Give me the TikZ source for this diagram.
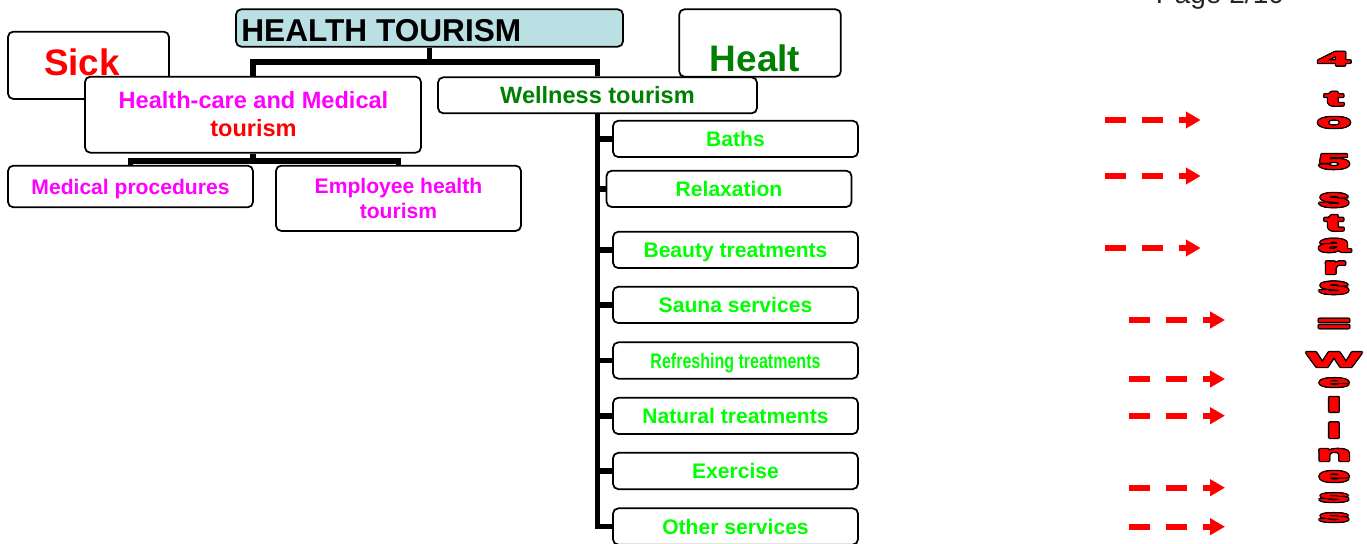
\documentclass[tikz,border=0pt]{standalone}
\usepackage{fontspec}
\setmainfont{Liberation Sans}
\newfontfamily\starfont{Liberation Sans}[UprightFont={* Bold},FakeBold=2.5]
\usepackage{graphicx}
\usetikzlibrary{arrows.meta,calc}
\pgfdeclarelayer{bg}
\pgfsetlayers{bg,main}
\definecolor{htfill}{RGB}{186,224,228}
\definecolor{darkgreen}{RGB}{0,128,0}
\definecolor{litegreen}{RGB}{0,255,0}
\definecolor{pinkish}{RGB}{255,0,255}
\newcommand\pxu{0.02cm}
\newcommand\fsz[1]{\fontsize{#1}{#1}\selectfont}
\begin{document}
\begin{tikzpicture}[x=0.02cm, y=-0.02cm,
  box/.style={draw=black, line width=1pt, rounded corners=3pt, fill=white, inner sep=0pt},
  sized/.style 2 args={minimum width=#1*\pxu, minimum height=#2*\pxu},
  conn/.style={draw=black, line width=3.4pt, line join=miter},
  txt/.style={inner sep=0pt, anchor=base},
  wbox/.style={box, sized={245}{36.3}, text=litegreen, font=\bfseries\fsz{12pt}, text height=8.6pt, text depth=0pt},
  dasharrow/.style={draw=red, line width=3.3pt, dash pattern=on 11.9pt off 9.1pt, -{Triangle[length=8.5pt,width=9.2pt]}},
  starch/.style={inner sep=0pt, anchor=base, font=\starfont\fsz{11.3pt}},
]
\useasboundingbox (0,0) rectangle (1367,544);

% page header
\node[txt, font=\fsz{16pt}, text=black!85] (page) at (1220,4) {Page 2/10};

% side boxes and title
\node[box, sized={161}{67.3}] (sick) at (88.5,65.3) {};
\node[txt, text=red, font=\bfseries\fsz{21pt}] (sicktxt) at (82,76) {Sick};
\node[box, sized={387}{37.4}, fill=htfill] (ht) at (429.5,28) {};
\node[txt, anchor=base west, font=\bfseries\fsz{18pt}] (httxt) at (241,41.7) {HEALTH TOURISM};
\node[box, sized={161.7}{67.4}] (healt) at (760,43) {};
\node[txt, text=darkgreen, font=\bfseries\fsz{21pt}] (healttxt) at (755,71.7) {Healt};

% second level
\node[box, sized={336}{76}] (hc) at (253,114.7) {};
\node[txt, text=pinkish, font=\bfseries\fsz{13.4pt}] (hc1) at (253.5,108.3) {Health-care and Medical};
\node[txt, text=red, font=\bfseries\fsz{13.4pt}] (hc2) at (253.5,136.7) {tourism};
\node[box, sized={319}{36}, text=darkgreen, font=\bfseries\fsz{13.4pt}, text height=9.6pt, text depth=0pt] (wt) at (597.5,95.3) {Wellness tourism};

% medical branch
\node[box, sized={245}{41.6}, text=pinkish, font=\bfseries\fsz{12pt}, text height=8.6pt, text depth=0pt] (mp) at (130.5,186.5) {Medical procedures};
\node[box, sized={245}{65.3}] (eh) at (398.5,198.3) {};
\node[txt, text=pinkish, font=\bfseries\fsz{12pt}] (eh1) at (398.5,193.3) {Employee health};
\node[txt, text=pinkish, font=\bfseries\fsz{12pt}] (eh2) at (398.5,218) {tourism};

% wellness branch
\node[wbox] (w1) at (735.5,138.9) {Baths};
\node[wbox] (w2) at (729,188.9) {Relaxation};
\node[wbox] (w3) at (735.5,249.9) {Beauty treatments};
\node[wbox] (w4) at (735.5,304.9) {Sauna services};
\node[wbox] (w5) at (735.5,360.5) {\scalebox{0.76}[1]{Refreshing treatments}};
\node[wbox] (w6) at (735.5,415.9) {Natural treatments};
\node[wbox] (w7) at (735.5,471) {Exercise};
\node[wbox] (w8) at (735.5,526.5) {Other services};

% tree connectors
\begin{pgfonlayer}{bg}
  \coordinate (hj) at ($(ht.south)+(0,14.3)$);
  \draw[conn] (ht.south) -- (hj);
  \draw[conn] (hc.north) |- (hj) -| (wt.north);
  \coordinate (cj) at ($(hc.south)+(0,7.3)$);
  \draw[conn] (hc.south) -- (cj);
  \draw[conn] (mp.north) |- (cj) -| (eh.north);
  \draw[conn] (wt.south) |- (w8.west);
  \foreach \k in {1,...,7} \draw[conn] (wt.south |- w\k.west) -- (w\k.west);
\end{pgfonlayer}

% dashed arrows
\foreach \i/\xs/\xe/\yy in {1/1105/1200.7/120, 2/1105/1200.7/176, 3/1105/1200.7/248,
  4/1129/1225/320, 5/1129/1225/379, 6/1129/1225/415.7, 7/1129/1225/487.7, 8/1129/1225/526.7}{
  \coordinate (as\i) at (\xs,\yy);
  \coordinate (ae\i) at (\xe,\yy);
  \draw[dasharrow] (as\i) -- (ae\i);
}

% stacked outlined letters: character / baseline / vertical scale
\foreach \ch/\yy/\ys [count=\n] in {4/65.2/0.95, t/105.2/1.0, o/127.5/0.95, 5/168.5/1.02,
  s/206.5/1.22, t/230.2/1.13, a/251.5/1.16, r/273.5/1.1, s/293.5/1.08, =/331/1.15,
  W/366.5/1.02, e/386.5/0.75, l/411.5/0.98, l/437.5/1.02, n/460.5/1.05, e/481.5/0.95,
  s/501.5/0.75, s/521.5/0.75}{
  \foreach \dx/\dy in {0.75/0,-0.75/0,0/0.75,0/-0.75,0.55/0.55,0.55/-0.55,-0.55/0.55,-0.55/-0.55}
    \node[starch, text=black] at ([xshift=\dx pt, yshift=\dy pt]1334,\yy) {\scalebox{2.9}[\ys]{\ch}};
  \node[starch, text=red] (star\n) at (1334,\yy) {\scalebox{2.9}[\ys]{\ch}};
}
\end{tikzpicture}
\end{document}
